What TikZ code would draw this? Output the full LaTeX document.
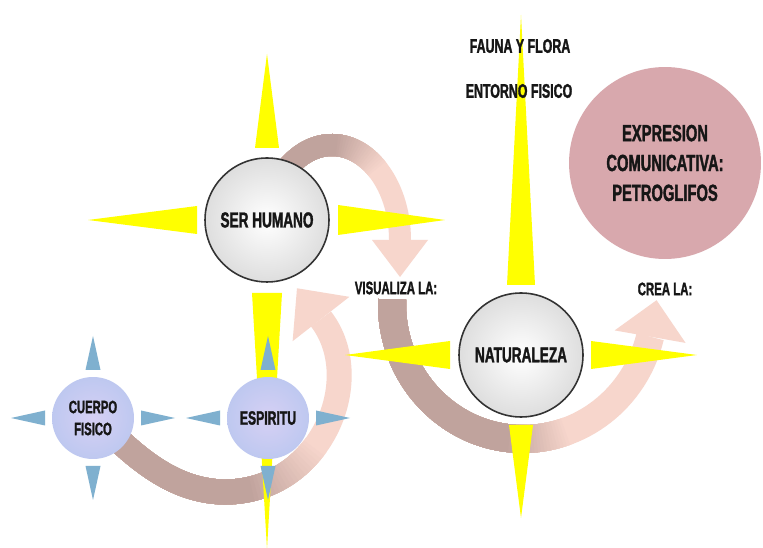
\documentclass[tikz,border=0pt]{standalone}
\usepackage{fontspec}
\newfontfamily\condfont{Liberation Sans}[FakeStretch=0.63, BoldFeatures={FakeBold=1.5}]
\usetikzlibrary{calc}

\definecolor{sunyellow}{RGB}{255,255,0}
\definecolor{skyspike}{RGB}{127,176,207}
\definecolor{bandbrown}{RGB}{192,163,157}
\definecolor{bandpink}{RGB}{247,214,204}
\definecolor{rosefill}{RGB}{216,168,173}
\definecolor{lilacin}{RGB}{214,208,244}
\definecolor{lilacout}{RGB}{190,200,240}
\definecolor{inktext}{RGB}{22,22,22}

% pointed ray: centre, direction, base, tip, half width, colour
\newcommand{\spike}[6]{%
  \fill[#6, shift={(#1)}, rotate=#2] (#3,-#5) -- (#4,0) -- (#3,#5) -- cycle;}

% curved band, brown at the tail fading to pink
\newcommand{\fadeband}[4]{%
  \draw[line width=#4, bandpink] #1;
  \foreach \k in {0,...,20}{%
    \pgfmathsetlengthmacro{\seglen}{(#3-(#3-#2)*\k/20)*1cm}%
    \pgfmathtruncatemacro{\mix}{100-5*\k}%
    \draw[line width=#4, bandpink!\mix!bandbrown, dash pattern=on \seglen off 600pt] #1;
  }}

% arrow head: base centre, rotation, half width, length
\newcommand{\headtip}[4]{%
  \fill[bandpink, shift={(#1)}, rotate=#2] (-#3,0) -- (#3,0) -- (0,#4) -- cycle;}

\begin{document}
\begin{tikzpicture}[x=0.02cm, y=0.02cm,
    marble/.style={circle, draw=black!80, line width=0.9pt, inner color=white, outer color=black!13, minimum size=2.48cm, inner sep=0pt, text=inktext, font=\condfont\bfseries\fontsize{12.3}{14}\selectfont},
    lilac/.style={circle, inner color=lilacin, outer color=lilacout, minimum size=1.64cm, inner sep=0pt, align=center, text=inktext},
    rose/.style={circle, fill=rosefill, minimum size=3.84cm, inner sep=0pt, align=center, text=inktext, font=\condfont\bfseries\fontsize{13.3}{17}\selectfont},
    lbl/.style={inner sep=1pt, text=inktext, font=\condfont\bfseries\fontsize{10.3}{12}\selectfont}
  ]
  \useasboundingbox[fill=white] (0,0) rectangle (763,547);

  % centres
  \coordinate (serC) at (267,327);
  \coordinate (natC) at (521,192);
  \coordinate (espC) at (268,129);
  \coordinate (cueC) at (93,129);

  % curved arrows
  \coordinate (visA) at (332,307);
  \coordinate (visEnd) at (400,307);
  \fadeband{([shift={(140:68 and 95)}]visA) arc[start angle=140, end angle=0, x radius=68, y radius=95]}{1.4}{2.4}{0.44cm}
  \headtip{visEnd}{180}{28}{37}

  \coordinate (creA) at (523,243);
  \coordinate (creEnd) at ([shift={(346:131 and 135)}]creA);
  \fadeband{([shift={(178:131 and 135)}]creA) arc[start angle=178, end angle=346, x radius=131, y radius=135]}{4.0}{5.2}{0.56cm}
  \headtip{creEnd}{-10}{36}{37}

  \coordinate (cueTail) at (103,122);
  \coordinate (serHead) at (321,228);
  \fadeband{(cueTail) .. controls (140,85) and (175,57) .. (222,55) .. controls (320,53) and (368,167) .. (serHead)}{3.4}{5.0}{0.5cm}
  \headtip{serHead}{38}{36}{39}

  % rays
  \foreach \a/\b/\t/\w in {90/72/166/12, 180/70/179/14, 0/71/178/15, 270/73/329/15}
    {\spike{serC}{\a}{\b}{\t}{\w}{sunyellow}}
  \foreach \a/\b/\t/\w in {90/70/340/14, 180/71/176/14, 0/70/176/14, 270/70/163/12}
    {\spike{natC}{\a}{\b}{\t}{\w}{sunyellow}}
  \foreach \c in {espC, cueC}
    \foreach \a in {0,90,180,270}
      {\spike{\c}{\a}{48}{82}{7.5}{skyspike}}

  % circles
  \node[marble] (ser) at (serC) {SER HUMANO};
  \node[marble] (nat) at (natC) {NATURALEZA};
  \node[lilac, font=\condfont\bfseries\fontsize{11}{13}\selectfont] (esp) at (espC) {ESPIRITU};
  \node[lilac, font=\condfont\bfseries\fontsize{10.2}{12.5}\selectfont] (cue) at (cueC) {CUERPO\\FISICO};
  \node[rose] (expr) at (665,384) {EXPRESION\\COMUNICATIVA:\\PETROGLIFOS};

  % labels
  \node[lbl, fill=white] (visl) at (396,259) {VISUALIZA LA:};
  \node[lbl] (crea) at (665,258) {CREA LA:};
  \node[lbl, font=\condfont\bfseries\fontsize{11.2}{13}\selectfont] (fauna) at (520,501) {FAUNA Y FLORA};
  \node[lbl, font=\condfont\bfseries\fontsize{11.2}{13}\selectfont] (entorno) at (519,456) {ENTORNO FISICO};
\end{tikzpicture}
\end{document}
